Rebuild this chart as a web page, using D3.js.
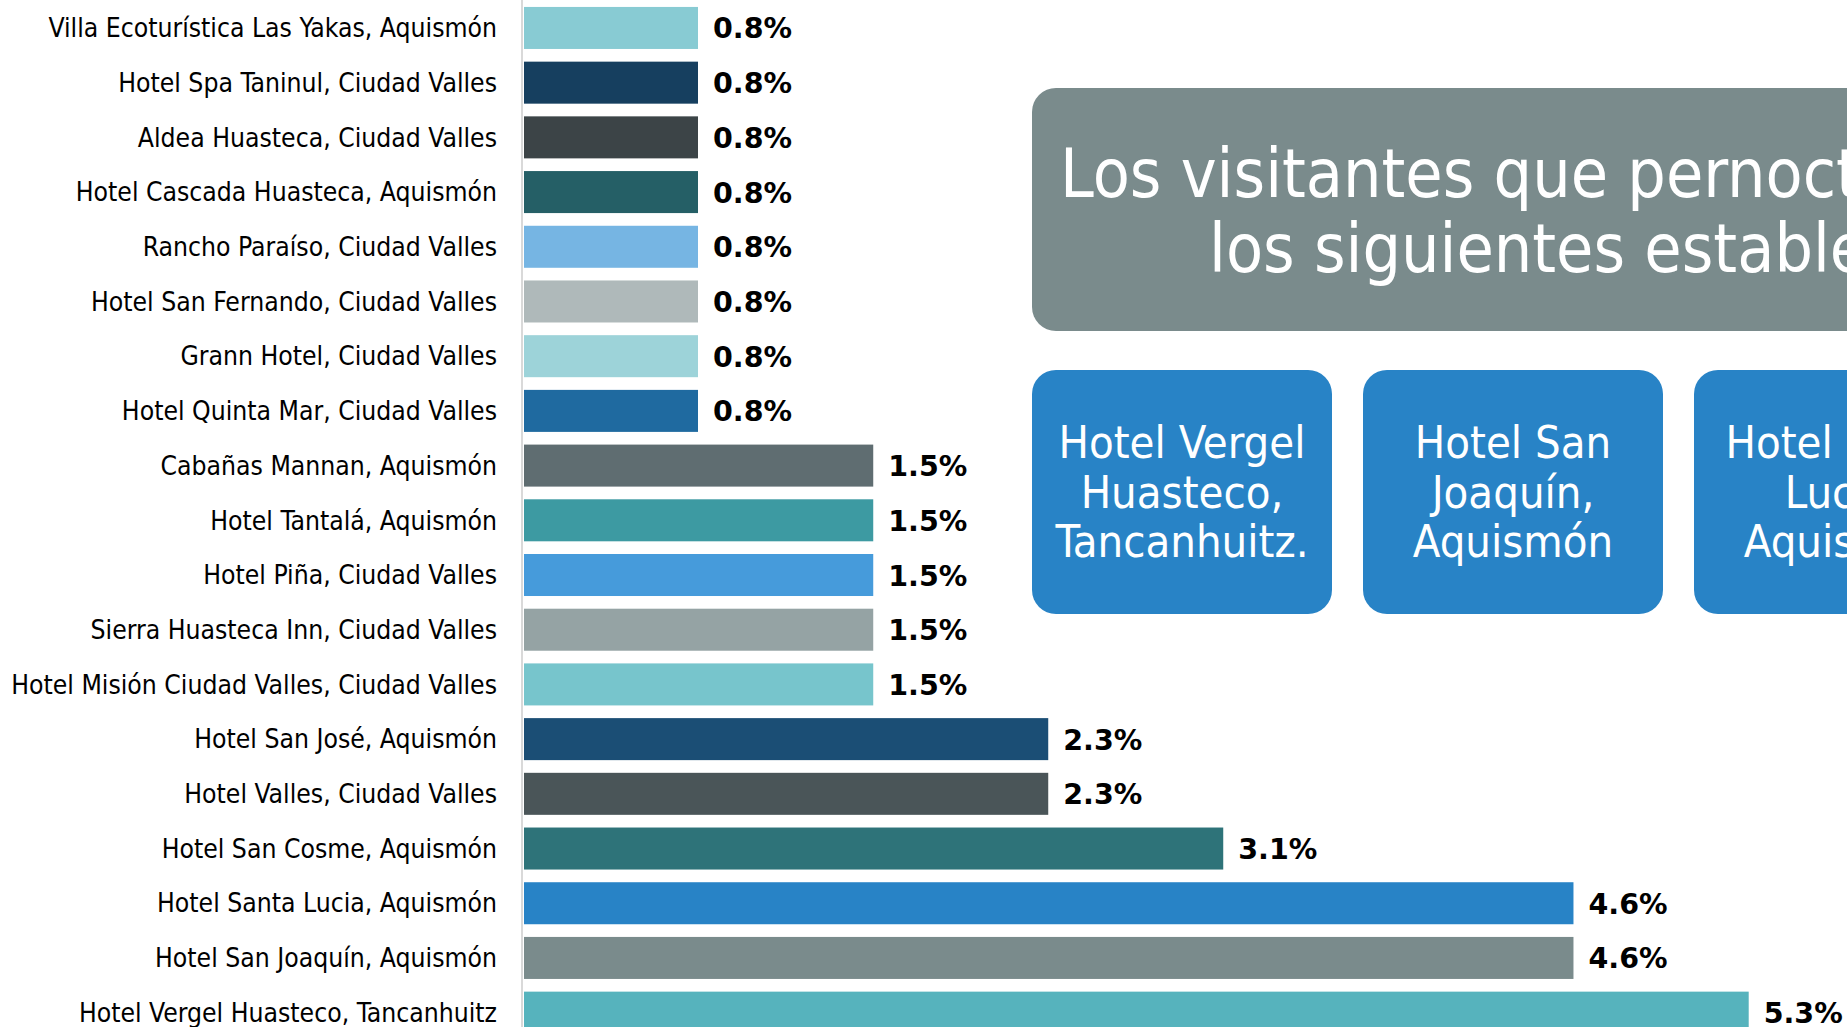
<!DOCTYPE html>
<html>
<head>
<meta charset="utf-8">
<script src="https://cdn.jsdelivr.net/npm/d3@7"></script>
<style>
  html, body { margin: 0; padding: 0; background: #ffffff; overflow: hidden; }
  svg { display: block; }
</style>
</head>
<body>
<script>
// ---- Data ----
const categories = [
  "Villa Ecoturística Las Yakas, Aquismón",
  "Hotel Spa Taninul, Ciudad Valles",
  "Aldea Huasteca, Ciudad Valles",
  "Hotel Cascada Huasteca, Aquismón",
  "Rancho Paraíso, Ciudad Valles",
  "Hotel San Fernando, Ciudad Valles",
  "Grann Hotel, Ciudad Valles",
  "Hotel Quinta Mar, Ciudad Valles",
  "Cabañas Mannan, Aquismón",
  "Hotel Tantalá, Aquismón",
  "Hotel Piña, Ciudad Valles",
  "Sierra Huasteca Inn, Ciudad Valles",
  "Hotel Misión Ciudad Valles, Ciudad Valles",
  "Hotel San José, Aquismón",
  "Hotel Valles, Ciudad Valles",
  "Hotel San Cosme, Aquismón",
  "Hotel Santa Lucia, Aquismón",
  "Hotel San Joaquín, Aquismón",
  "Hotel Vergel Huasteco, Tancanhuitz"
];
const values = [0.763, 0.763, 0.763, 0.763, 0.763, 0.763, 0.763, 0.763,
                1.527, 1.527, 1.527, 1.527, 1.527,
                2.290, 2.290, 3.053, 4.580, 4.580, 5.344];
const barColors = [
  "#88cbd3", "#163f5f", "#3c4447", "#255f66", "#76b5e3", "#afb9ba",
  "#9dd3d9", "#1f6aa0", "#5f6d71", "#3d9aa2", "#469bdb", "#95a3a4",
  "#77c5cc", "#1b4e75", "#4a5558", "#2e7379", "#2883c6", "#7a8b8c", "#56b3bd"
];
const titleLines = ["Los visitantes que pernoctaron lo hicieron en",
                    "los siguientes establecimientos:"];
const topHotels = [
  ["Hotel Vergel", "Huasteco,", "Tancanhuitz."],
  ["Hotel San", "Joaquín,", "Aquismón"],
  ["Hotel Santa", "Lucia,", "Aquismón"]
];

// ---- Layout ----
const W = 1847, H = 1027;
const FONT = "'DejaVu Sans Condensed', 'DejaVu Sans', sans-serif";
const FONT_BOLD = "'DejaVu Sans', sans-serif";
const svg = d3.select("body").append("svg").attr("width", W).attr("height", H);

const x = d3.scaleLinear().domain([0, 6]).range([523, 523 + 229.36 * 6]);
const y = d3.scaleBand().domain(categories).range([0.6, 1040]).paddingInner(0.232).paddingOuter(0.116);

// axis line
svg.append("line")
  .attr("x1", 522).attr("x2", 522)
  .attr("y1", 0).attr("y2", H)
  .attr("stroke", "#d9d9d9").attr("stroke-width", 2);

const rows = categories.map((c, i) => ({ c, v: values[i], col: barColors[i] }));

svg.selectAll("rect.bar").data(rows).join("rect")
  .attr("class", "bar")
  .attr("x", x(0) + 1)
  .attr("y", d => y(d.c))
  .attr("width", d => x(d.v) - x(0) - 1)
  .attr("height", y.bandwidth())
  .attr("fill", d => d.col);

svg.selectAll("text.cat").data(rows).join("text")
  .attr("class", "cat")
  .attr("x", 497)
  .attr("y", d => y(d.c) + y.bandwidth() / 2)
  .attr("dy", "0.35em")
  .attr("text-anchor", "end")
  .attr("font-family", FONT)
  .attr("font-size", 26.3)
  .attr("fill", "#000")
  .text(d => d.c);

const fmt = d3.format(".1f");
svg.selectAll("text.val").data(rows).join("text")
  .attr("class", "val")
  .attr("x", d => x(d.v) + 15)
  .attr("y", d => y(d.c) + y.bandwidth() / 2)
  .attr("dy", "0.37em")
  .attr("font-family", FONT_BOLD)
  .attr("font-weight", "bold")
  .attr("font-size", 28.5)
  .attr("fill", "#000")
  .text(d => fmt(d.v) + "%");

// ---- Title box ----
svg.append("rect")
  .attr("x", 1032).attr("y", 88)
  .attr("width", 1100).attr("height", 243)
  .attr("rx", 24).attr("ry", 24)
  .attr("fill", "#7a8b8c");
const titleX = [1060, 1209];
const titleY = [197, 272];
titleLines.forEach((t, i) => {
  svg.append("text")
    .attr("x", titleX[i]).attr("y", titleY[i])
    .attr("font-family", FONT)
    .attr("font-size", 67.5)
    .attr("fill", "#ffffff")
    .text(t);
});

// ---- Hotel boxes ----
const boxX = [1032, 1363, 1694];
topHotels.forEach((lines, i) => {
  svg.append("rect")
    .attr("x", boxX[i]).attr("y", 370)
    .attr("width", 300).attr("height", 244)
    .attr("rx", 24).attr("ry", 24)
    .attr("fill", "#2883c6");
  lines.forEach((ln, j) => {
    svg.append("text")
      .attr("x", boxX[i] + 150)
      .attr("y", 458 + j * 49.5)
      .attr("text-anchor", "middle")
      .attr("font-family", FONT)
      .attr("font-size", 45)
      .attr("fill", "#ffffff")
      .text(ln);
  });
});
</script>
</body>
</html>
